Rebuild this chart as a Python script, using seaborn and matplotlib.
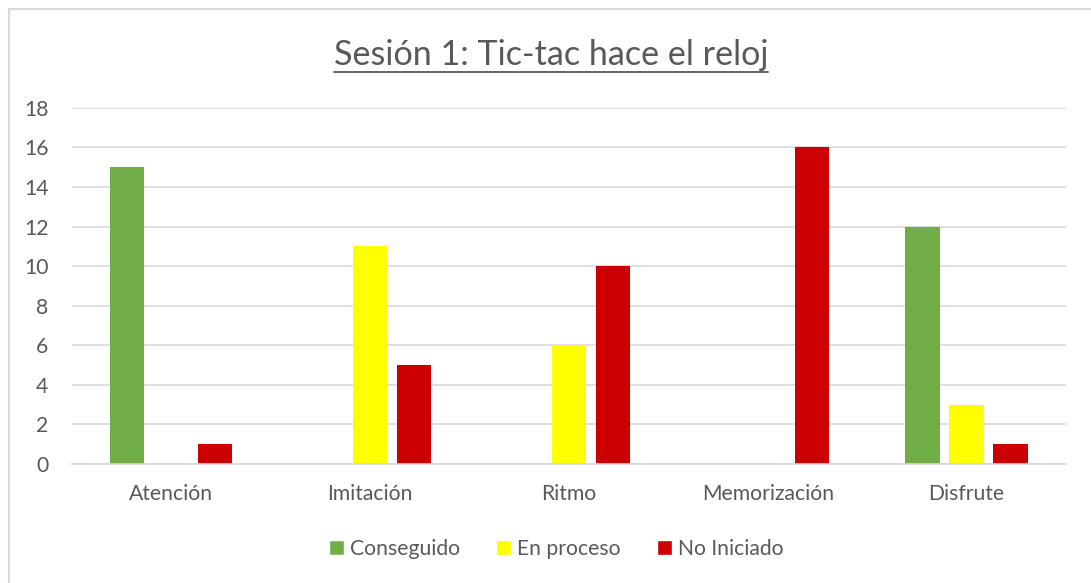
import pandas as pd
import matplotlib
matplotlib.use("Agg")
import matplotlib.pyplot as plt
import seaborn as sns
from matplotlib.lines import Line2D
from matplotlib.patches import Rectangle

categorias = ["Atención", "Imitación", "Ritmo", "Memorización", "Disfrute"]
series = ["Conseguido", "En proceso", "No Iniciado"]
conseguido = [15, 0, 0, 0, 12]
en_proceso = [0, 11, 6, 0, 3]
no_iniciado = [1, 5, 10, 16, 1]
colores = ["#70AD47", "#FFFF00", "#CC0000"]

df = pd.DataFrame({
    "categoria": categorias * 3,
    "serie": [series[0]] * 5 + [series[1]] * 5 + [series[2]] * 5,
    "valor": conseguido + en_proceso + no_iniciado,
})

sns.set_style("white")
plt.rcParams["font.family"] = ["Lato", "DejaVu Sans"]
gris = "#595959"

fig = plt.figure(figsize=(10.91, 5.83), dpi=100)
ax = fig.add_axes([0.066, 0.204, 0.911, 0.611])

sns.barplot(data=df, x="categoria", y="valor", hue="serie", palette=colores,
            width=0.664, gap=0.226, ax=ax, legend=False, saturation=1, linewidth=0)

ax.set_ylim(0, 18)
ax.set_yticks(range(0, 19, 2))
ax.set_xlim(-0.5, 4.5)
ax.yaxis.grid(True, color="#D9D9D9", linewidth=1.2)
ax.set_axisbelow(True)
for s in ["top", "right", "left"]:
    ax.spines[s].set_visible(False)
ax.spines["bottom"].set_color("#D9D9D9")
ax.spines["bottom"].set_linewidth(1.2)
ax.tick_params(axis="both", length=0, labelsize=15.2, colors=gris)
ax.tick_params(axis="y", pad=17)
ax.tick_params(axis="x", pad=14)
ax.set_xlabel("")
ax.set_ylabel("")

# titulo subrayado
titulo = fig.text(0.505, 0.905, "Sesión 1: Tic-tac hace el reloj", ha="center", va="center",
                  fontsize=24.6, color=gris)
fig.canvas.draw()
bb = titulo.get_window_extent().transformed(fig.transFigure.inverted())
fig.add_artist(Line2D([bb.x0, bb.x1], [0.876, 0.876], color=gris, linewidth=1.3,
                      transform=fig.transFigure))

handles = [Rectangle((0, 0), 1, 1, facecolor=c) for c in colores]
fig.legend(handles, series, loc="center", bbox_to_anchor=(0.51, 0.058), ncol=3,
           frameon=False, fontsize=15.2, labelcolor=gris, handlelength=0.7,
           handleheight=0.7, handletextpad=0.3, columnspacing=1.7)

fig.add_artist(Rectangle((0.008, -0.01), 1.0, 0.995, fill=False, edgecolor="#D9D9D9",
                         linewidth=1.5, transform=fig.transFigure))

fig.savefig("out.png", dpi=100)
